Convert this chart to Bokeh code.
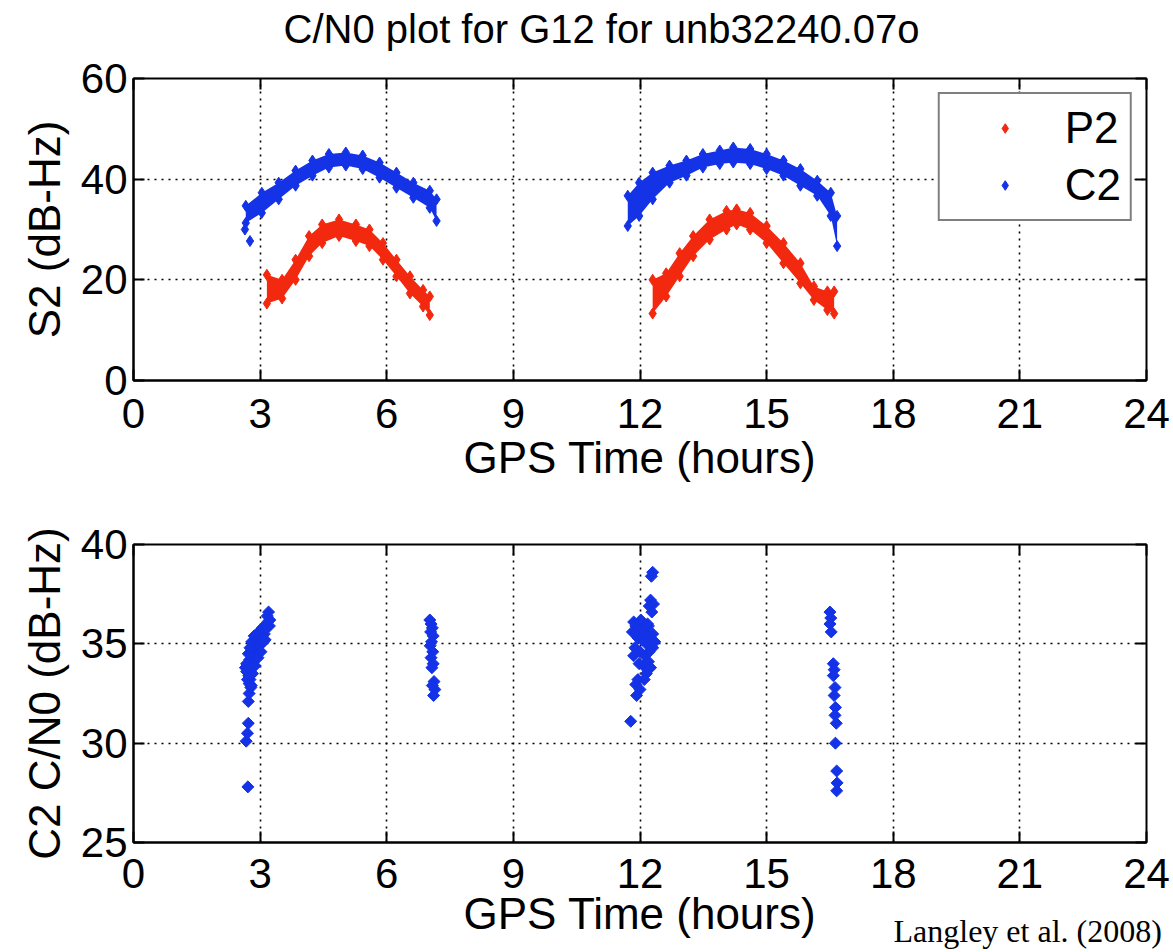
from bokeh.plotting import figure
from bokeh.layouts import column
from bokeh.models import Range1d, LinearAxis, FixedTicker, Legend, LegendItem, Title
from bokeh.embed import file_html
from bokeh.resources import INLINE
import math

# ---------------- data ----------------
hour_ticks = [0, 3, 6, 9, 12, 15, 18, 21, 24]
s2_ticks = [0, 20, 40, 60]
cn0_ticks = [25, 30, 35, 40]

# S2 signal strength bands (lower / upper envelope of the tracked samples)
c2_pass1_t = [2.66, 3.04, 3.44, 3.84, 4.24, 4.63, 5.03, 5.43, 5.83, 6.23, 6.63, 7.02, 7.18]
c2_pass1_lo = [31.3, 33.3, 36.0, 38.7, 40.7, 42.3, 42.7, 42.0, 40.3, 38.3, 36.3, 34.3, 31.7]
c2_pass1_hi = [34.7, 37.3, 39.3, 41.7, 43.7, 45.0, 45.3, 44.7, 43.3, 41.3, 39.3, 37.7, 36.0]
c2_pass1_stray_t = [2.64, 2.76]
c2_pass1_stray_v = [30.0, 27.7]

p2_pass1_t = [3.16, 3.52, 3.84, 4.16, 4.47, 4.87, 5.27, 5.59, 5.91, 6.23, 6.55, 6.86, 7.02]
p2_pass1_lo = [15.3, 16.3, 20.0, 24.7, 27.3, 28.7, 27.7, 26.7, 24.0, 20.7, 17.3, 14.7, 13.0]
p2_pass1_hi = [21.0, 20.0, 24.0, 28.7, 31.0, 32.0, 31.0, 30.0, 27.3, 24.0, 20.7, 18.0, 16.7]

c2_pass2_t = [11.71, 11.98, 12.30, 12.70, 13.10, 13.49, 13.89, 14.21, 14.61, 15.00, 15.40, 15.80, 16.20, 16.52, 16.67]
c2_pass2_lo = [30.7, 32.7, 36.0, 39.3, 40.7, 42.3, 43.0, 43.3, 43.0, 42.0, 40.7, 38.7, 36.7, 32.7, 26.7]
c2_pass2_hi = [36.7, 39.3, 41.3, 42.7, 43.7, 45.0, 45.7, 46.3, 46.0, 45.0, 43.7, 42.0, 39.7, 37.3, 32.7]

p2_pass2_t = [12.30, 12.62, 12.94, 13.26, 13.65, 14.05, 14.29, 14.61, 15.00, 15.40, 15.80, 16.12, 16.44, 16.60]
p2_pass2_lo = [13.3, 16.7, 20.7, 24.7, 28.0, 30.0, 31.0, 30.0, 27.3, 23.3, 19.3, 16.0, 14.0, 13.3]
p2_pass2_hi = [20.0, 21.3, 25.3, 28.7, 32.0, 33.7, 34.0, 33.3, 30.7, 27.3, 23.3, 18.7, 17.7, 17.7]

# C2 C/N0 samples
cn0_t = [
    2.71, 2.67, 2.70, 2.72, 2.72, 2.74, 2.78,
    2.65, 2.68, 2.70, 2.73, 2.75, 2.78, 2.80, 2.83, 2.85, 2.88, 2.90, 2.93, 2.95,
    2.98, 3.00, 3.03, 3.05, 3.08, 3.10, 3.12, 2.76, 2.82, 2.88, 2.95, 3.02,
    2.68, 2.72, 2.76, 2.80, 2.86, 2.92, 2.98, 3.05, 2.70, 2.74, 2.79,
    3.15, 3.18, 3.20, 3.17, 3.22, 3.23,
    7.02, 7.05, 7.08, 7.04, 7.10, 7.06, 7.03, 7.09, 7.05, 7.10, 7.07,
    7.12, 7.08, 7.14, 7.11,
    12.30, 12.27, 12.25, 12.32, 12.22, 12.28,
    11.85, 11.90, 12.00, 12.10, 12.20, 12.30, 11.95, 12.05, 12.15, 12.25, 12.35,
    11.88, 12.00, 12.12, 11.85, 12.20, 12.08, 12.25, 12.15, 11.95, 11.90, 12.00,
    11.82, 12.02, 12.18, 12.30, 12.22, 11.98, 12.10,
    11.92, 11.78,
    16.50, 16.52, 16.50, 16.53, 16.58, 16.60, 16.58, 16.62, 16.60, 16.63, 16.62,
    16.65, 16.63, 16.66, 16.67, 16.66,
]
cn0_v = [
    27.8, 30.1, 30.5, 31.0, 32.1, 32.5, 32.8,
    33.8, 33.6, 34.0, 33.4, 34.2, 33.8, 34.5, 34.1, 34.8, 34.4, 35.0, 34.7, 35.2,
    34.9, 35.3, 35.0, 35.4, 35.1, 35.5, 35.2, 33.2, 33.5, 33.9, 34.3, 34.6,
    34.0, 34.5, 34.8, 35.1, 35.4, 35.5, 35.6, 35.8, 33.2, 33.0, 32.9,
    35.8, 36.1, 36.6, 36.4, 35.9, 36.2,
    36.2, 36.0, 35.8, 35.6, 35.4, 35.1, 34.9, 34.6, 34.3, 34.0, 33.8,
    33.1, 32.9, 32.7, 32.4,
    38.6, 38.4, 37.2, 37.0, 36.9, 36.6,
    36.1, 35.9, 35.8, 35.6, 35.9, 35.5, 35.3, 35.2, 35.0, 35.3, 35.1,
    34.8, 34.6, 34.4, 34.4, 34.1, 33.9, 33.8, 33.5, 33.2, 32.95, 32.7,
    35.6, 36.2, 36.0, 34.8, 34.6, 34.0, 33.2,
    32.4, 31.1,
    36.6, 36.3, 36.0, 35.6, 34.0, 33.7, 33.4, 32.8, 32.4, 31.8, 31.4,
    31.0, 30.0, 28.6, 28.0, 27.6,
]

# ---------------- styling ----------------
BLUE = "#1432e6"
RED = "#f2280f"
FONT = "Liberation Sans"
TICK_FS = "42px"
LABEL_FS = "44px"
W = 1173
LEFT, RIGHT = 133, 1173 - 1146


def style_axes(p, yticks, tick_gap, label_gap):
    p.xaxis.ticker = FixedTicker(ticks=hour_ticks)
    p.yaxis.ticker = FixedTicker(ticks=yticks)
    for ax in p.xaxis + p.yaxis:
        ax.axis_line_color = "black"
        ax.axis_line_width = 2
        ax.major_tick_in = 11
        ax.major_tick_out = 0
        ax.major_tick_line_color = "black"
        ax.major_tick_line_width = 2
        ax.minor_tick_line_color = None
        ax.major_label_text_font = FONT
        ax.major_label_text_font_size = TICK_FS
        ax.major_label_text_color = "black"
        ax.axis_label_text_font = FONT
        ax.axis_label_text_font_size = LABEL_FS
        ax.axis_label_text_font_style = "normal"
        ax.axis_label_text_color = "black"
    p.xaxis.major_label_standoff = tick_gap
    p.xaxis.axis_label_standoff = label_gap
    p.yaxis.major_label_standoff = 6
    p.yaxis.axis_label_standoff = 9
    # mirrored inward ticks on the top and right edges of the box
    for loc, tk in (("above", hour_ticks), ("right", yticks)):
        ax = LinearAxis(ticker=FixedTicker(ticks=tk),
                        major_label_overrides={t: "" for t in tk},
                        major_label_text_font_size="1px",
                        major_label_standoff=0, axis_line_color=None,
                        major_tick_in=11, major_tick_out=0, major_tick_line_width=2,
                        major_tick_line_color="black", minor_tick_line_color=None)
        p.add_layout(ax, loc)
    p.outline_line_color = "black"
    p.outline_line_width = 2
    for g in (p.xgrid[0], p.ygrid[0]):
        g.grid_line_color = "black"
        g.grid_line_width = 1.6
        g.grid_line_dash = "2 5"
    p.xgrid.ticker = FixedTicker(ticks=hour_ticks)
    p.ygrid.ticker = FixedTicker(ticks=yticks)
    p.background_fill_color = "white"
    p.border_fill_color = "white"


# ---------------- S2 panel ----------------
# the top strip is taller than needed and pulled up by a negative margin,
# which leaves the title room to sit well clear of the box
TOP_STRIP, PULL = 108, 30
p1 = figure(width=W, height=TOP_STRIP + 302 + 116, x_range=Range1d(0, 24), y_range=Range1d(0, 60),
            output_backend="svg", toolbar_location=None,
            min_border_left=LEFT, min_border_right=RIGHT,
            min_border_top=TOP_STRIP, min_border_bottom=116,
            margin=(-PULL, 0, 0, 0))
p1.title.text = "C/N0 plot for G12 for unb32240.07o"
p1.title.text_font = FONT
p1.title.text_font_size = "40px"
p1.title.text_font_style = "normal"
p1.title.text_color = "black"
p1.title.align = "left"
p1.title.offset = 150
p1.title.standoff = 55
p1.xaxis.axis_label = "GPS Time (hours)"
p1.yaxis.axis_label = "S2 (dB-Hz)"
style_axes(p1, s2_ticks, tick_gap=18, label_gap=2)

edge_mk = dict(marker="diamond", size=11, line_width=1)
bands = [
    (p2_pass1_t, p2_pass1_lo, p2_pass1_hi, RED),
    (c2_pass1_t, c2_pass1_lo, c2_pass1_hi, BLUE),
    (p2_pass2_t, p2_pass2_lo, p2_pass2_hi, RED),
    (c2_pass2_t, c2_pass2_lo, c2_pass2_hi, BLUE),
]
edges = {}
for t, lo, hi, col in bands:
    p1.varea(x=t, y1=lo, y2=hi, fill_color=col)
    r = p1.scatter(x=t + t, y=lo + hi, fill_color=col, line_color=col, **edge_mk)
    edges.setdefault(col, r)
p1.scatter(x=c2_pass1_stray_t, y=c2_pass1_stray_v, fill_color=BLUE, line_color=BLUE, **edge_mk)

legend = Legend(items=[LegendItem(label="P2", renderers=[edges[RED]]),
                       LegendItem(label="C2", renderers=[edges[BLUE]])],
                location="top_right", margin=14, padding=9, spacing=7,
                glyph_width=112, glyph_height=24, label_height=44, label_standoff=4,
                label_text_font=FONT, label_text_font_size=LABEL_FS,
                label_text_color="black",
                border_line_color="black", border_line_width=2,
                background_fill_color="white", background_fill_alpha=1.0)
p1.add_layout(legend, "center")

# ---------------- C/N0 panel ----------------
p2 = figure(width=W, height=456, x_range=Range1d(0, 24), y_range=Range1d(25, 40),
            output_backend="svg", toolbar_location=None,
            min_border_left=LEFT, min_border_right=RIGHT,
            min_border_top=48, min_border_bottom=110)
p2.xaxis.axis_label = "GPS Time (hours)"
p2.yaxis.axis_label = "C2 C/N0 (dB-Hz)"
style_axes(p2, cn0_ticks, tick_gap=16, label_gap=-2)
p2.scatter(x=cn0_t, y=cn0_v, fill_color=BLUE, line_color=BLUE,
           marker="square", angle=math.pi / 4, size=8.5, line_width=1)

# source note, tucked under the right end of the axis
credit = Title(text="Langley et al. (2008)", align="left", offset=760,
               vertical_align="top", standoff=-56,
               text_font="Liberation Serif", text_font_size="32px",
               text_font_style="normal", text_color="black")
p2.add_layout(credit, "below")

layout = column(p1, p2, spacing=0)
open("out.html", "w").write(file_html(layout, INLINE))
